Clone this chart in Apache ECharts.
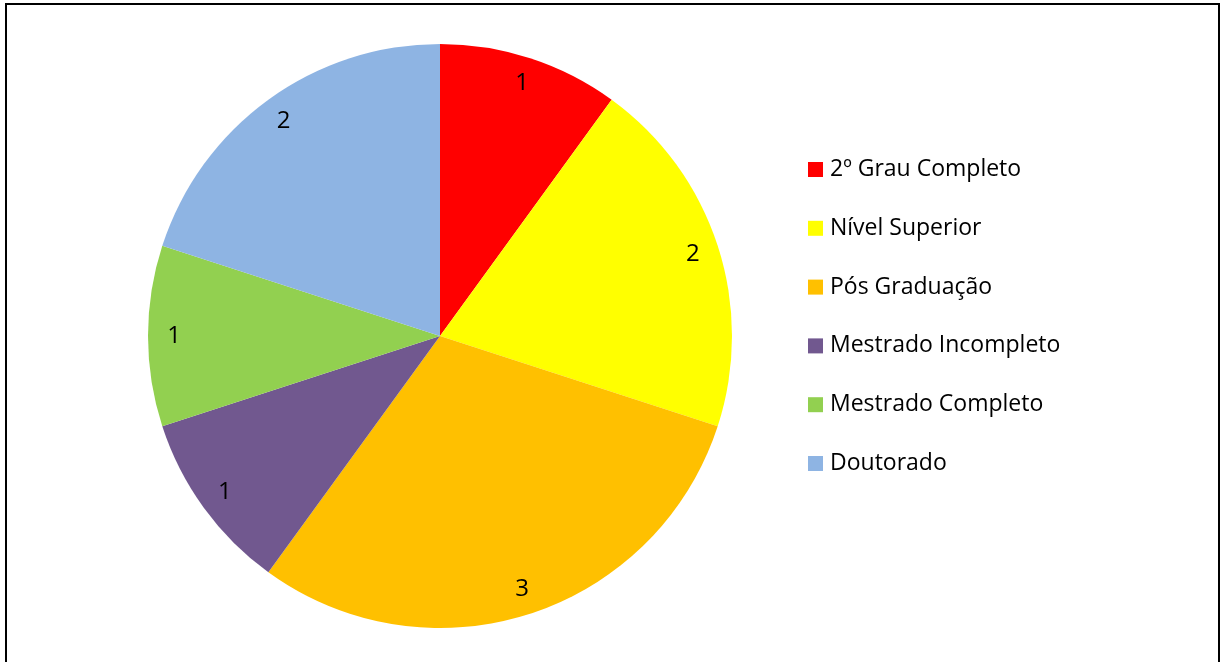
<!DOCTYPE html>
<html>
<head>
<meta charset="utf-8">
<script src="https://cdn.jsdelivr.net/npm/echarts@6/dist/echarts.min.js"></script>
<style>
  html, body { margin: 0; padding: 0; background: #fff; }
  #chart { width: 1220px; height: 662px; }
</style>
</head>
<body>
<div id="chart"></div>
<script>
// Escolaridade dos participantes
const categories = ['2º Grau Completo', 'Nível Superior', 'Pós Graduação', 'Mestrado Incompleto', 'Mestrado Completo', 'Doutorado'];
const values = [1, 2, 3, 1, 1, 2];
const colors = ['#FF0000', '#FFFF00', '#FFC000', '#71588F', '#92D050', '#8EB4E3'];

const FONT = '"Open Sans", "Noto Sans", sans-serif';
const slices = categories.map((name, i) => ({ name, value: values[i], itemStyle: { color: colors[i] } }));

const chart = echarts.init(document.getElementById('chart'), null, { renderer: 'canvas' });
chart.setOption({
  animation: false,
  backgroundColor: '#fff',
  color: colors,
  legend: {
    orient: 'vertical',
    left: 808,
    top: 156.5,
    padding: 0,
    itemWidth: 15,
    itemHeight: 15,
    itemGap: 32.8,
    icon: 'rect',
    selectedMode: false,
    data: categories,
    textStyle: { fontFamily: FONT, fontSize: 23, color: '#000', lineHeight: 26, padding: [0, 0, 0, 2] }
  },
  graphic: [{
    type: 'rect',
    shape: { x: 6, y: 4, width: 1213, height: 720 },
    style: { fill: 'none', stroke: '#000', lineWidth: 2 },
    silent: true
  }],
  series: [
    {
      type: 'pie',
      center: [440, 336],
      radius: [0, 292],
      startAngle: 90,
      clockwise: true,
      label: { show: false },
      labelLine: { show: false },
      itemStyle: { borderWidth: 0 },
      emphasis: { disabled: true },
      data: slices
    },
    {
      // transparent ring that carries the value labels near the rim
      type: 'pie',
      center: [440, 336],
      radius: [234, 292],
      startAngle: 90,
      clockwise: true,
      silent: true,
      legendHoverLink: false,
      itemStyle: { color: 'rgba(0,0,0,0)', borderWidth: 0 },
      label: {
        show: true,
        position: 'inside',
        formatter: '{c}',
        fontFamily: FONT,
        fontSize: 24,
        color: '#000'
      },
      labelLine: { show: false },
      emphasis: { disabled: true },
      data: categories.map((name, i) => ({ name, value: values[i] }))
    }
  ]
});
</script>
</body>
</html>
